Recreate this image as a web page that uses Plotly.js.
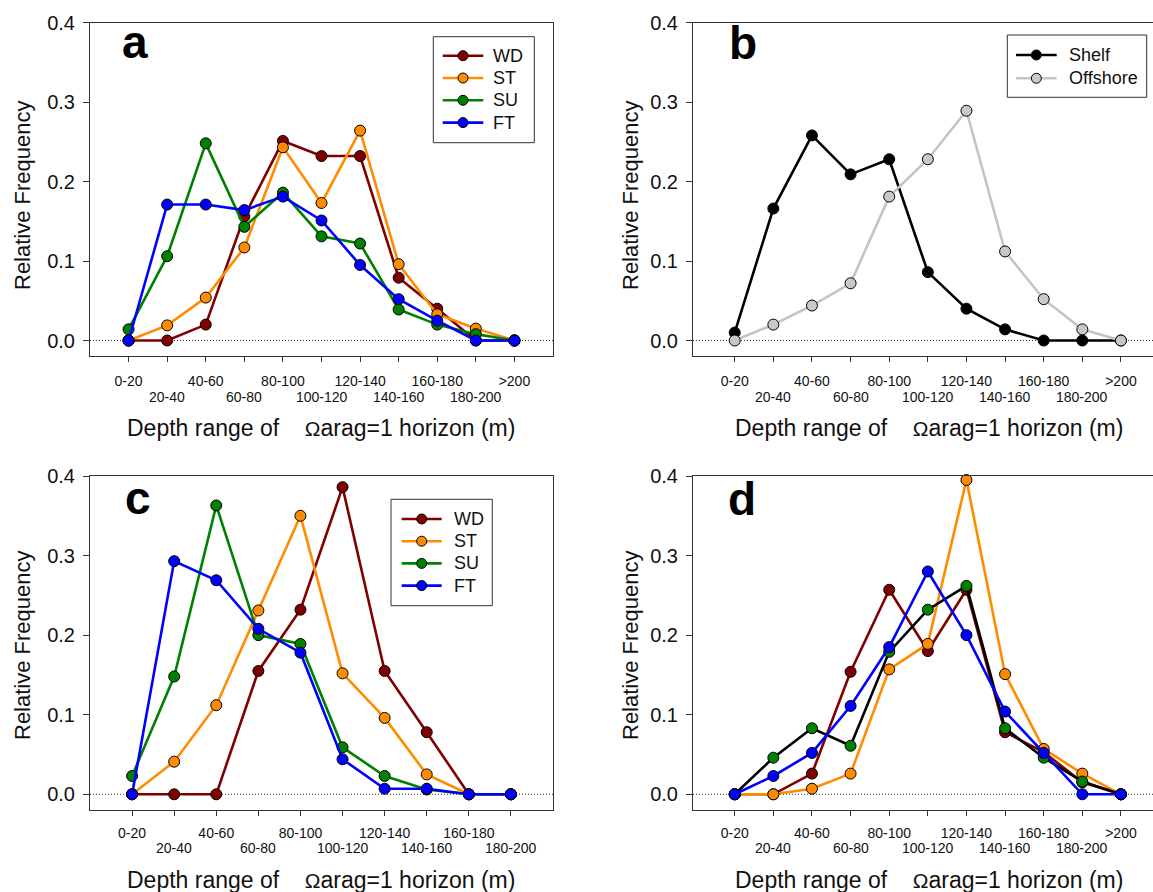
<!DOCTYPE html>
<html><head><meta charset="utf-8">
<script src="https://cdn.plot.ly/plotly-3.0.1.min.js"></script>
<style>html,body{margin:0;padding:0;background:#fff}#chart{width:1153px;height:892px}</style>
</head><body><div id="chart"></div>
<script>
// ---- categories ----
const depthLabels = ['0-20','20-40','40-60','60-80','80-100','100-120','120-140','140-160','160-180','180-200','>200'];
const depthLabelsC = ['0-20','20-40','40-60','60-80','80-100','100-120','120-140','140-160','160-180','180-200'];

// ---- panel a ----
const aWD = [0.0, 0.0, 0.020, 0.156, 0.251, 0.232, 0.232, 0.079, 0.040, 0.0, 0.0];
const aST = [0.0, 0.019, 0.054, 0.117, 0.243, 0.173, 0.264, 0.096, 0.033, 0.015, 0.0];
const aSU = [0.014, 0.106, 0.248, 0.143, 0.186, 0.131, 0.122, 0.039, 0.020, 0.008, 0.0];
const aFT = [0.0, 0.171, 0.171, 0.164, 0.181, 0.151, 0.095, 0.052, 0.025, 0.0, 0.0];

// ---- panel b ----
const bShelf = [0.010, 0.166, 0.258, 0.209, 0.228, 0.086, 0.040, 0.014, 0.0, 0.0, 0.0];
const bOffshore = [0.0, 0.020, 0.044, 0.072, 0.181, 0.228, 0.289, 0.112, 0.052, 0.014, 0.0];

// ---- panel c ----
const cWD = [0.0, 0.0, 0.0, 0.155, 0.232, 0.386, 0.155, 0.078, 0.0, 0.0];
const cST = [0.0, 0.041, 0.112, 0.231, 0.350, 0.152, 0.096, 0.025, 0.0, 0.0];
const cSU = [0.023, 0.148, 0.363, 0.200, 0.189, 0.059, 0.023, 0.006, 0.0, 0.0];
const cFT = [0.0, 0.293, 0.269, 0.208, 0.178, 0.044, 0.007, 0.007, 0.0, 0.0];

// ---- panel d ----
const dWD = [0.0, 0.0, 0.026, 0.154, 0.257, 0.180, 0.257, 0.078, 0.053, 0.015, 0.0];
const dST = [0.0, 0.0, 0.007, 0.026, 0.157, 0.189, 0.395, 0.151, 0.057, 0.026, 0.0];
const dSU = [0.0, 0.046, 0.083, 0.061, 0.179, 0.232, 0.262, 0.083, 0.046, 0.016, 0.0];
const dFT = [0.0, 0.023, 0.052, 0.111, 0.185, 0.280, 0.200, 0.104, 0.052, 0.0, 0.0];

const seasonNames = ['WD', 'ST', 'SU', 'FT'];
const regionNames = ['Shelf', 'Offshore'];
const yTicks = [0.0, 0.1, 0.2, 0.3, 0.4];
const xTitle = 'Depth range of \u00a0\u00a0\u00a0<span style="font-size:21px">\u03a9</span>arag=1 horizon (m)';
const yTitle = 'Relative Frequency';

// ---- styles ----
const C = {WD:'#800000', ST:'#ff8c00', SU:'#008000', FT:'#0000ff', Shelf:'#000000', Offshore:'#c4c4c4'};
const MC = {WD:'#800000', ST:'#ff8c00', SU:'#008000', FT:'#0000ff', Shelf:'#000000', Offshore:'#c8c8c8'};
const FONT = 'Arial, "Liberation Sans", sans-serif';
const LW = 2.6, MS = 11;

const idx = arr => arr.map((_, i) => i);

function tr(xa, ya, vals, name, lineColor, markerColor) {
  return {
    type: 'scatter', mode: 'lines+markers', name: name,
    x: idx(vals), y: vals, xaxis: xa, yaxis: ya,
    line: {color: lineColor, width: LW},
    marker: {size: MS, color: markerColor, line: {color: '#000', width: 1}},
    showlegend: false, cliponaxis: false
  };
}

const data = [
  tr('x','y', aWD, 'WD', C.WD, MC.WD),
  tr('x','y', aST, 'ST', C.ST, MC.ST),
  tr('x','y', aSU, 'SU', C.SU, MC.SU),
  tr('x','y', aFT, 'FT', C.FT, MC.FT),
  tr('x2','y2', bShelf, 'Shelf', C.Shelf, MC.Shelf),
  tr('x2','y2', bOffshore, 'Offshore', C.Offshore, MC.Offshore),
  tr('x3','y3', cWD, 'WD', C.WD, MC.WD),
  tr('x3','y3', cST, 'ST', C.ST, MC.ST),
  tr('x3','y3', cSU, 'SU', C.SU, MC.SU),
  tr('x3','y3', cFT, 'FT', C.FT, MC.FT),
  tr('x4','y4', dWD, 'WD', C.WD, MC.WD),
  tr('x4','y4', dST, 'ST', C.ST, MC.ST),
  tr('x4','y4', dSU, 'SU', '#000000', MC.SU),
  tr('x4','y4', dFT, 'FT', C.FT, MC.FT)
];

const W = 1153, H = 892;
const px = v => v / W, py = v => 1 - v / H;

const domAx = [px(90), px(553)];
const domBx = [px(693), 1];
const domTop = [py(356.4), py(22.5)];
const domBot = [py(810.2), py(476)];

const frameColor = '#333';
const tickFont = {family: FONT, size: 14, color: '#111'};

function mainX(domain, range, labels, anchor, standoff) {
  return {
    domain: domain, range: range, anchor: anchor, type: 'linear',
    tickmode: 'array', tickvals: idx(labels),
    ticktext: labels.map((l, i) => i % 2 === 0 ? l : ''),
    ticks: 'outside', ticklen: 5, tickcolor: frameColor, tickwidth: 1,
    showline: true, linecolor: frameColor, linewidth: 1, mirror: true,
    showgrid: false, zeroline: false, tickfont: tickFont,
    ticklabelstandoff: standoff, fixedrange: true
  };
}
function mainY(domain, anchor, mirror) {
  return {
    domain: domain, range: [-0.02, 0.4], anchor: anchor,
    tickmode: 'array', tickvals: yTicks, tickformat: '.1f',
    ticks: 'outside', ticklen: 6, tickcolor: frameColor, tickwidth: 1,
    showline: true, linecolor: frameColor, linewidth: 1, mirror: mirror,
    showgrid: false, zeroline: false,
    tickfont: {family: FONT, size: 20, color: '#111'},
    ticklabelstandoff: 4, fixedrange: true
  };
}

const rA = [-1, 11], rB = [-1.08, 10.83], rC = [-1, 10], rD = [-1.08, 10.83];

const shapes = ['x','x2','x3','x4'].map((xa, k) => ({type: 'line', xref: xa + ' domain', yref: ['y','y2','y3','y4'][k],
  x0: 0, x1: 1, y0: 0, y1: 0, line: {color: '#333', width: 1, dash: '1px,2px'}, layer: 'below'}));

const annotations = [];
const letter = (t, x, y) => annotations.push({text: '<b>' + t + '</b>', x: px(x), y: py(y), xref: 'paper', yref: 'paper',
  xanchor: 'center', yanchor: 'middle', showarrow: false, font: {family: FONT, size: 46, color: '#000'}});
const xt = (x, y) => annotations.push({text: xTitle, x: px(x), y: py(y), xref: 'paper', yref: 'paper',
  xanchor: 'center', yanchor: 'middle', showarrow: false, font: {family: FONT, size: 23, color: '#111'}});
const yt = (x, y) => annotations.push({text: yTitle, x: px(x), y: py(y), xref: 'paper', yref: 'paper', textangle: -90,
  xanchor: 'center', yanchor: 'middle', showarrow: false, font: {family: FONT, size: 22, color: '#111'}});
// second (staggered) row of x tick labels
const oddLabels = (xa, labels, y) => labels.forEach((l, i) => { if (i % 2 === 1) annotations.push({
  text: l, x: i, y: py(y), xref: xa, yref: 'paper', xanchor: 'center', yanchor: 'middle',
  showarrow: false, font: tickFont}); });

letter('a', 135, 42); letter('b', 743, 43); letter('c', 137.5, 498); letter('d', 742, 499);
xt(321.5, 428); xt(929, 428); xt(321.5, 880); xt(929, 880);
yt(22, 195); yt(630, 195); yt(22, 645); yt(630, 645);
oddLabels('x', depthLabels, 397); oddLabels('x2', depthLabels, 397);
oddLabels('x3', depthLabelsC, 848); oddLabels('x4', depthLabels, 848);

// legend boxes (line + marker sample + name)
function legendBox(names, box, firstY, step, lineX0, lineX1, textX) {
  shapes.push({type: 'rect', xref: 'paper', yref: 'paper', x0: px(box[0]), x1: px(box[1]), y0: py(box[3]), y1: py(box[2]),
    line: {color: '#333', width: 1}, fillcolor: '#fff', layer: 'above'});
  names.forEach((n, i) => {
    const yy = py(firstY + step * i);
    shapes.push({type: 'line', xref: 'paper', yref: 'paper', x0: px(lineX0), x1: px(lineX1), y0: yy, y1: yy,
      line: {color: C[n], width: LW}, layer: 'above'});
    shapes.push({type: 'circle', xref: 'paper', yref: 'paper', xsizemode: 'pixel', ysizemode: 'pixel',
      xanchor: px((lineX0 + lineX1) / 2), yanchor: yy, x0: -5, x1: 5, y0: -5, y1: 5,
      fillcolor: MC[n], line: {color: '#000', width: 1}, layer: 'above'});
    annotations.push({text: n, x: px(textX), y: yy, xref: 'paper', yref: 'paper', xanchor: 'left', yanchor: 'middle',
      showarrow: false, font: {family: FONT, size: 18, color: '#111'}});
  });
}
legendBox(seasonNames, [433.3, 534.3, 36.7, 142.7], 55.7, 22.3, 442.7, 483.3, 491.5);
legendBox(regionNames, [1007.3, 1146.7, 35, 97.3], 55, 23.3, 1016, 1056.7, 1067);
legendBox(seasonNames, [391, 492.3, 499.3, 605.7], 519, 22.2, 401.7, 441.7, 451.5);

const layout = {
  width: W, height: H, margin: {l: 0, r: 0, t: 0, b: 0},
  paper_bgcolor: '#fff', plot_bgcolor: '#fff', showlegend: false,
  xaxis: mainX(domAx, rA, depthLabels, 'y', 7),
  yaxis: mainY(domTop, 'x', true),
  xaxis2: mainX(domBx, rB, depthLabels, 'y2', 7),
  yaxis2: mainY(domTop, 'x2', false),
  xaxis3: mainX(domAx, rC, depthLabelsC, 'y3', 5),
  yaxis3: mainY(domBot, 'x3', true),
  xaxis4: mainX(domBx, rD, depthLabels, 'y4', 5),
  yaxis4: mainY(domBot, 'x4', false),
  shapes: shapes,
  annotations: annotations
};

Plotly.newPlot('chart', data, layout, {displayModeBar: false, staticPlot: true});
</script>
</body></html>
